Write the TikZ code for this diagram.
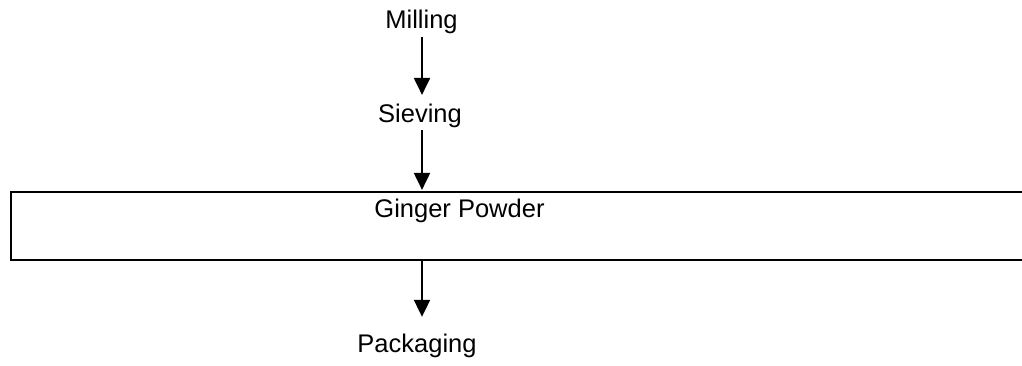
\documentclass[tikz,border=0pt]{standalone}
\usepackage{fontspec}
\setmainfont{Liberation Sans}
\usetikzlibrary{arrows.meta}
\begin{document}
\begin{tikzpicture}[x=1pt,y=-1pt,
  lbl/.style={inner sep=0pt, anchor=base, font=\fontsize{25.5}{30}\selectfont},
  arr/.style={line width=2pt, -{Triangle[length=17pt,width=16pt]}},
  frame/.style={draw, line width=2.2pt, inner sep=0pt, minimum width=1040pt, minimum height=68pt}]
\useasboundingbox (0,0) rectangle (1022,365);
\clip (0,0) rectangle (1022,365);
\coordinate (ax) at (422,0);
\node[lbl] (milling) at (421.5,28) {Milling};
\node[lbl] (sieving) at (420,122) {Sieving};
\node[frame] (box) at (531,226) {};
\node[lbl] (powder) at (459.5,217) {Ginger Powder};
\node[lbl] (packaging) at (417,352) {Packaging};
\draw[arr, shorten <=3.6pt, shorten >=8.4pt] (milling.south -| ax) -- (sieving.north -| ax);
\draw[arr, shorten <=2.6pt, shorten >=1pt] (sieving.south -| ax) -- (box.north -| ax);
\draw[arr, shorten >=16.5pt] (box.south -| ax) -- (packaging.north -| ax);
\end{tikzpicture}
\end{document}
